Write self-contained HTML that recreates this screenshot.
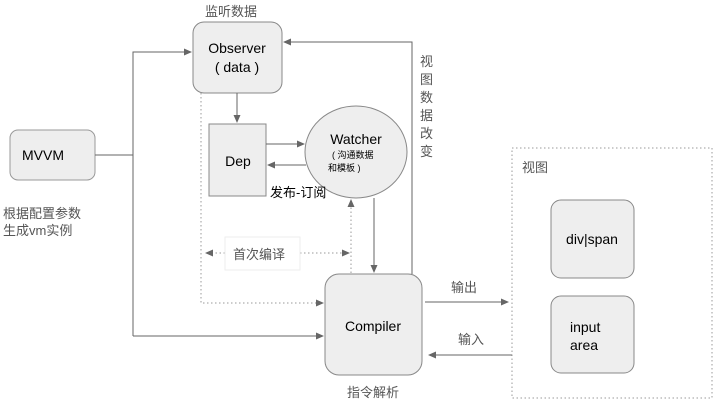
<!DOCTYPE html>
<html><head><meta charset="utf-8"><style>
body{margin:0;background:#fff;width:719px;height:402px;overflow:hidden}
svg text{font-family:"Liberation Sans","Noto Sans CJK SC",sans-serif}
</style></head><body>
<svg width="719" height="402" viewBox="0 0 719 402">
<defs><marker id="a" markerWidth="8" markerHeight="8" refX="7" refY="4" orient="auto" markerUnits="userSpaceOnUse"><path d="M0,0.5 L8,4 L0,7.5z" fill="#666"/></marker></defs>
<g stroke="#666" stroke-width="1" fill="none">
<rect x="10" y="130" width="85" height="50" rx="8" fill="#eee" stroke="#999"/>
<rect x="193" y="22" width="89" height="71" rx="11" fill="#eee" stroke="#888"/>
<rect x="209" y="124" width="57" height="72" fill="#eee" stroke="#888"/>
<ellipse cx="356" cy="152" rx="51" ry="46" fill="#eee" stroke="#888"/>
<rect x="325" y="274" width="97" height="101" rx="14" fill="#eee" stroke="#888"/>
<rect x="512" y="148" width="200" height="250" stroke="#999" stroke-dasharray="1.5,2.5"/>
<rect x="551" y="200" width="83" height="78" rx="10" fill="#eee" stroke="#888"/>
<rect x="551" y="296" width="83" height="77" rx="10" fill="#eee" stroke="#888"/>
<path d="M95 155 H133"/>
<path d="M133 336 V52 H191" marker-end="url(#a)"/>
<path d="M133 336 H323" marker-end="url(#a)"/>
<path d="M412 274 V42 H284" marker-end="url(#a)"/>
<path d="M237 93 V122" marker-end="url(#a)"/>
<path d="M266 144 H304" marker-end="url(#a)"/>
<path d="M306 165 H268" marker-end="url(#a)"/>
<path d="M374 198 V272" marker-end="url(#a)"/>
<path d="M425 302 H508" marker-end="url(#a)"/>
<path d="M512 355 H429" marker-end="url(#a)"/>
<g stroke="#999" stroke-dasharray="1.5,2.5">
<path d="M201 93 V303 H323" marker-end="url(#a)"/>
<path d="M351 273 V200" marker-end="url(#a)"/>
<path d="M225 253 H206" marker-end="url(#a)"/>
<path d="M300 253 H349" marker-end="url(#a)"/>
</g>
</g>
<rect x="225" y="237" width="75" height="33" fill="#fff" stroke="#eee"/>
<g font-size="14" fill="#000">
<text x="237" y="53" text-anchor="middle">Observer</text>
<text x="237" y="72" text-anchor="middle">( data )</text>
<text x="22" y="160">MVVM</text>
<text x="238" y="166" text-anchor="middle">Dep</text>
<text x="356" y="144" text-anchor="middle">Watcher</text>
<text x="373" y="331" text-anchor="middle">Compiler</text>
<text x="592" y="244" text-anchor="middle">div|span</text>
<text x="570" y="332">input</text>
<text x="570" y="350">area</text>
</g>
<g font-size="9" fill="#000"><text x="332" y="158">( 沟通数据</text><text x="328" y="171">和模板 )</text></g>
<g font-size="13" fill="#555">
<text x="205" y="16">监听数据</text>
<text x="270" y="197" fill="#000">发布-订阅</text>
<text x="233" y="259">首次编译</text>
<text x="347" y="397">指令解析</text>
<text x="451" y="292">输出</text>
<text x="458" y="344">输入</text>
<text x="3" y="218">根据配置参数</text>
<text x="3" y="235">生成vm实例</text>
<text x="522" y="172">视图</text>
<text x="420" y="66">视</text><text x="420" y="84">图</text><text x="420" y="102">数</text><text x="420" y="120">据</text><text x="420" y="138">改</text><text x="420" y="156">变</text>
</g>
</svg>
</body></html>
